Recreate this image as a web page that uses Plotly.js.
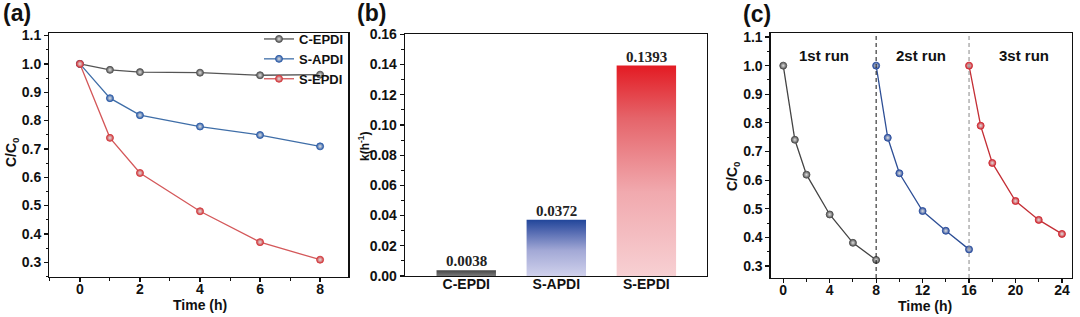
<!DOCTYPE html>
<html>
<head>
<meta charset="utf-8">
<script src="https://cdn.plot.ly/plotly-3.0.1.min.js"></script>
<style>html,body{margin:0;padding:0;background:#fff;}#chart{width:1080px;height:317px;}</style>
</head>
<body>
<div id="chart"></div>
<script>
// ---------- DATA ----------
const timeA = [0, 1, 2, 4, 6, 8];
const seriesNames = ['C-EPDI', 'S-APDI', 'S-EPDI'];
const cEPDI = [1.0, 0.979, 0.971, 0.969, 0.960, 0.962];
const sAPDI = [1.0, 0.879, 0.819, 0.779, 0.749, 0.709];
const sEPDI = [1.0, 0.739, 0.615, 0.480, 0.371, 0.309];

const kCategories = ['C-EPDI', 'S-APDI', 'S-EPDI'];
const kValues = [0.0038, 0.0372, 0.1393];
const kLabels = ['0.0038', '0.0372', '0.1393'];

const run1Time = [0, 1, 2, 4, 6, 8];
const run1 = [1.0, 0.741, 0.619, 0.480, 0.381, 0.321];
const run2Time = [8, 9, 10, 12, 14, 16];
const run2 = [1.0, 0.748, 0.624, 0.492, 0.423, 0.358];
const run3Time = [16, 17, 18, 20, 22, 24];
const run3 = [1.0, 0.790, 0.660, 0.527, 0.461, 0.412];
const runLabels = ['1st run', '2st run', '3st run'];
const runLabelX = [3.5, 11.9, 20.7];
const runLabelY = 1.036;
const runBoundaries = [8, 16];

// ---------- STYLE ----------
const FONT = 'Liberation Sans, Arial, Helvetica, sans-serif';
const SERIF = 'Liberation Serif, Times New Roman, serif';
const W = 1080, H = 317;
const px = v => v / W;
const py = v => 1 - v / H;

const lineCols = ['#555555', '#3f6ea8', '#d4585a'];
const markCols = ['#555555', '#2f5ea8', '#d23c40'];
const runLineCols = ['#444444', '#2e4f96', '#c42f36'];
const runMarkCols = ['#505050', '#2d4f9e', '#cf2a33'];
const barScales = [
  [[0, '#7a7a7a'], [1, '#454545']],
  [[0, '#d0d1ec'], [0.45, '#a3a9d6'], [0.8, '#5168b0'], [1, '#22469a']],
  [[0, '#f7d0d3'], [0.4, '#f1a9ae'], [0.75, '#e5646a'], [1, '#e31b23']]
];
const barWidth = 0.66;

function sphere(col) {
  return {size: 7, color: col, gradient: {type: 'radial', color: '#e0e0e0'},
          line: {color: col, width: 0.9}};
}

const traces = [];
// panel (a)
[cEPDI, sAPDI, sEPDI].forEach((ys, i) => {
  traces.push({
    type: 'scatter', mode: 'lines+markers', x: timeA, y: ys, name: seriesNames[i],
    xaxis: 'x', yaxis: 'y',
    line: {color: lineCols[i], width: 1.3},
    marker: sphere(markCols[i])
  });
});
// panel (b) bars built from data via the axis scale
kValues.forEach((v, i) => {
  const x0 = i - barWidth / 2, x1 = i + barWidth / 2;
  traces.push({
    type: 'scatter', mode: 'lines', x: [x0, x0, x1, x1, x0], y: [0, v, v, 0, 0],
    xaxis: 'x2', yaxis: 'y2', fill: 'toself', showlegend: false,
    line: {width: 0, color: 'rgba(0,0,0,0)'},
    fillcolor: barScales[i][barScales[i].length - 1][1],
    fillgradient: {type: 'vertical', colorscale: barScales[i], start: 0, stop: v},
    hoverinfo: 'skip'
  });
});
// panel (c)
[[run1Time, run1], [run2Time, run2], [run3Time, run3]].forEach((d, i) => {
  traces.push({
    type: 'scatter', mode: 'lines+markers', x: d[0], y: d[1], showlegend: false,
    xaxis: 'x3', yaxis: 'y3',
    line: {color: runLineCols[i], width: 1.3},
    marker: sphere(runMarkCols[i])
  });
});

const tickFont = {family: FONT, size: 14, color: '#111', weight: 'bold'};
function ax(extra) {
  return Object.assign({
    showline: true, linecolor: '#111', linewidth: 1.3, mirror: true,
    ticks: 'outside', ticklen: 4, tickwidth: 1.2, tickcolor: '#111',
    showgrid: false, zeroline: false, tickfont: tickFont, fixedrange: true
  }, extra);
}
const minorY = {ticks: 'outside', ticklen: 2.5, tickwidth: 1, tickcolor: '#111', showgrid: false};

const annotations = [];
function ann(text, x, y, size, extra) {
  annotations.push(Object.assign({
    text: text, xref: 'paper', yref: 'paper', x: px(x), y: py(y),
    xanchor: 'center', yanchor: 'middle', showarrow: false,
    font: {family: FONT, size: size, color: '#111', weight: 'bold'}
  }, extra || {}));
}
// panel labels
ann('(a)', 17, 13, 23);
ann('(b)', 371, 13, 23);
ann('(c)', 757, 14, 23);
// axis titles
ann('Time (h)', 200, 305, 14);
ann('Time (h)', 925, 306, 14);
ann('C/C<sub>0</sub>', 12, 152, 14, {textangle: -90});
ann('C/C<sub>0</sub>', 733, 176, 14, {textangle: -90});
ann('k(h<sup>-1</sup>)', 364, 147, 12, {textangle: -90});
// bar value labels
kValues.forEach((v, i) => {
  annotations.push({
    text: kLabels[i], xref: 'x2', yref: 'y2', x: i, y: v, xanchor: 'center', yanchor: 'bottom',
    showarrow: false, yshift: -1,
    font: {family: SERIF, size: 15, color: '#222', weight: 'bold'}
  });
});
// run labels
runLabels.forEach((t, i) => {
  annotations.push({
    text: t, xref: 'x3', yref: 'y3', x: runLabelX[i], y: runLabelY, xanchor: 'center', yanchor: 'middle',
    showarrow: false, font: {family: FONT, size: 15, color: '#111', weight: 'bold'}
  });
});

const shapes = runBoundaries.map((b, i) => ({
  type: 'line', xref: 'x3', yref: 'y3 domain', x0: b, x1: b, y0: 0, y1: 1,
  line: {color: i === 0 ? '#111' : '#888', width: 1, dash: '4px,3px'}
}));

const xStand = -5;
const layout = {
  width: W, height: H, autosize: false,
  margin: {l: 0, r: 0, t: 0, b: 0, pad: 0},
  paper_bgcolor: '#fff', plot_bgcolor: '#fff',
  font: {family: FONT, color: '#111'},
  showlegend: true,
  legend: {x: px(349), xanchor: 'right', y: py(24), yanchor: 'top', xref: 'paper', yref: 'paper',
           bgcolor: 'rgba(0,0,0,0)', borderwidth: 0, itemwidth: 30, tracegroupgap: 0,
           font: {family: FONT, size: 13, color: '#111', weight: 'bold'}},
  xaxis: ax({domain: [px(49.3), px(348.3)], range: [-1.02, 8.94], dtick: 2, tick0: 0, ticklabelstandoff: xStand,
             minor: {dtick: 1, ticks: 'outside', ticklen: 2.5, tickwidth: 1, tickcolor: '#111'}, anchor: 'y'}),
  yaxis: ax({domain: [py(276.7), py(33.3)], range: [0.249, 1.108], dtick: 0.1, tick0: 0, tickformat: '.1f',
             minor: Object.assign({dtick: 0.05}, minorY), anchor: 'x'}),
  xaxis2: ax({domain: [px(405), px(706.7)], range: [-0.68, 2.67], tickmode: 'array', ticklabelstandoff: xStand,
              tickvals: kCategories.map((c, i) => i), ticktext: kCategories, ticks: '', anchor: 'y2'}),
  yaxis2: ax({domain: [py(276), py(34.3)], range: [0, 0.16], dtick: 0.02, tick0: 0, tickformat: '.2f',
              minor: Object.assign({dtick: 0.01}, minorY), anchor: 'x2'}),
  xaxis3: ax({domain: [px(770.7), px(1071.7)], range: [-1.08, 24.84], dtick: 4, tick0: 0, ticklabelstandoff: xStand,
              minor: {dtick: 2, ticks: 'outside', ticklen: 2.5, tickwidth: 1, tickcolor: '#111'}, anchor: 'y3'}),
  yaxis3: ax({domain: [py(278), py(33)], range: [0.258, 1.114], dtick: 0.1, tick0: 0, tickformat: '.1f',
              minor: Object.assign({dtick: 0.05}, minorY), anchor: 'x3'}),
  annotations: annotations,
  shapes: shapes
};

Plotly.newPlot('chart', traces, layout, {displayModeBar: false, staticPlot: true});
</script>
</body>
</html>
